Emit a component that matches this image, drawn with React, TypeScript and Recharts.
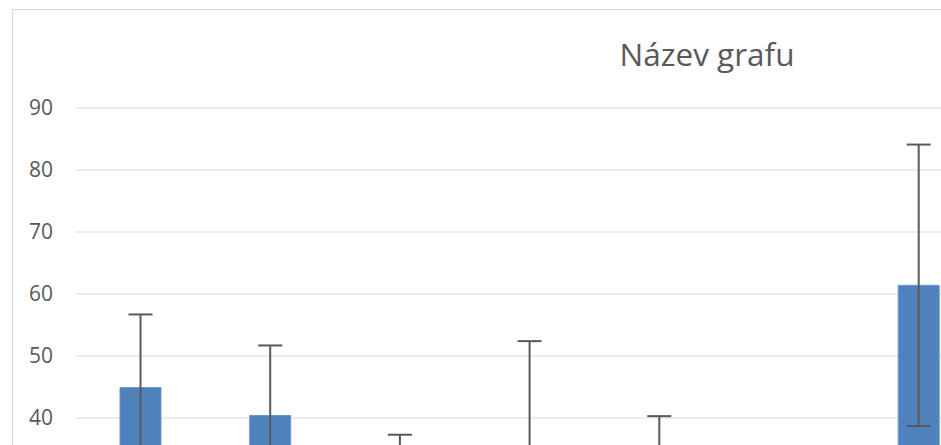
import React from 'react';
import { BarChart, Bar, XAxis, YAxis, CartesianGrid, ErrorBar } from 'recharts';

const categories = ['1', '2', '3', '4', '5', '6', '7', '8', '9', '10'];
const means = [44.9, 40.4, 25.0, 30.0, 28.0, 20.0, 61.4, 35.0, 30.0, 40.0];
const errors = [11.8, 11.3, 12.3, 22.4, 12.3, 10.0, 22.7, 15.0, 12.0, 14.0];
const yTicks = [0, 10, 20, 30, 40, 50, 60, 70, 80, 90];

const data = categories.map((name, i) => ({ name, value: means[i], err: errors[i] }));

const TEXT = '#595959';
const GRID = '#d9d9d9';

const App = () => (
  <div
    style={{
      position: 'fixed',
      left: 0,
      top: 0,
      width: 941,
      height: 445,
      overflow: 'hidden',
      background: '#fff',
      fontFamily: '"Open Sans", sans-serif',
    }}
  >
    <div
      style={{
        position: 'absolute',
        left: 12,
        top: 9,
        width: 1390,
        height: 720,
        border: `1px solid ${GRID}`,
        background: '#fff',
      }}
    >
      <div
        style={{
          position: 'absolute',
          left: 0,
          top: 28,
          width: 1388,
          textAlign: 'center',
          fontSize: 31.5,
          lineHeight: '31px',
          color: TEXT,
        }}
      >
        Název grafu
      </div>
      <BarChart
        width={1390}
        height={720}
        data={data}
        margin={{ top: 98, right: 30, left: 0, bottom: 34 }}
        barSize={41}
      >
        <CartesianGrid vertical={false} stroke={GRID} strokeWidth={1} />
        <XAxis
          dataKey="name"
          height={30}
          tickLine={false}
          axisLine={{ stroke: GRID }}
          tick={{ fill: TEXT, fontSize: 21 }}
        />
        <YAxis
          width={63}
          domain={[0, 90]}
          ticks={yTicks}
          axisLine={false}
          tickLine={false}
          tickSize={0}
          tickMargin={23}
          tick={{ fill: TEXT, fontSize: 21 }}
        />
        <Bar dataKey="value" fill="#4f81bd" stroke="#6c96cb" strokeWidth={1} isAnimationActive={false}>
          <ErrorBar
            dataKey="err"
            direction="y"
            width={12}
            stroke="#595959"
            strokeWidth={2}
            isAnimationActive={false}
          />
        </Bar>
      </BarChart>
    </div>
  </div>
);

export default App;
